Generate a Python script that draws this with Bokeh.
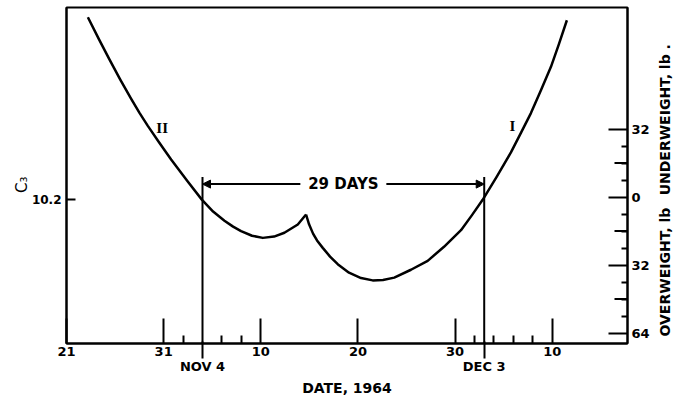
import math
from bokeh.plotting import figure
from bokeh.models import (LinearAxis, FixedTicker, Range1d, Label, Arrow, NormalHead)
from bokeh.embed import file_html
from bokeh.resources import INLINE

# ---------------- data (x: days after Oct 21, 1964; y: lb, underweight positive) -----
curve2_day = [2.20, 3.36, 4.39, 5.52, 6.66, 7.53, 8.37, 9.54, 10.77, 12.42, 13.93,
              15.09, 16.26, 17.15, 17.97, 19.10, 20.21, 21.37, 22.43, 23.81, 24.66]
curve2_lb = [84.6, 74.1, 65.0, 55.4, 46.2, 39.5, 33.5, 25.7, 17.7, 7.7, -1.2,
             -6.8, -11.1, -13.9, -16.0, -18.2, -19.2, -18.6, -16.8, -12.9, -8.2]

curve1_day = [24.66, 24.97, 25.38, 25.79, 26.38, 27.13, 27.92, 29.08, 30.32, 31.52,
              32.58, 33.74, 35.46, 37.18, 38.86, 40.61, 41.74, 42.84, 44.31, 45.75,
              46.78, 47.81, 48.84, 49.87, 50.69, 51.51]
curve1_lb = [-8.2, -12.8, -17.2, -20.4, -23.9, -28.0, -31.6, -35.6, -38.1, -39.2,
             -39.0, -37.9, -34.2, -30.0, -23.4, -15.6, -8.5, -1.3, 9.7, 21.0,
             30.2, 39.5, 50.3, 61.3, 72.0, 83.2]

date_ticks = [0, 10, 20, 30, 40, 50]
date_tick_labels = ["21", "31", "10", "20", "30", "10"]
date_minor_ticks = [12, 16, 18, 42, 44, 46, 48]

window_days = [14, 43]
window_labels = ["NOV 4", "DEC 3"]
window_length_label = "29 DAYS"

weight_ticks = [32, 0, -32, -64]
weight_tick_labels = ["32", "0", "32", "64"]
weight_minor_ticks = [24, 16, 8, -8, -16, -24, -40, -48, -56]
weight_medium_ticks = [16, -16, -48]

c3_ticks = [-1]
c3_tick_labels = ["10.2"]

curve_names = ["II", "I"]

# ---------------- layout ----------------
X0, X1 = 0, 57.75
Y0, Y1 = -68.9, 89.2
FW, FH = 561, 336
px_per_day = FW / (X1 - X0)
px_per_lb = FH / (Y1 - Y0)

FONT = "DejaVu Sans"
BLACK = "black"

p = figure(frame_width=FW, frame_height=FH,
           x_range=Range1d(X0, X1), y_range=Range1d(Y0, Y1),
           output_backend="svg", toolbar_location=None,
           min_border_left=66, min_border_right=52,
           min_border_top=7, min_border_bottom=59)
p.grid.visible = False
p.outline_line_color = BLACK
p.outline_line_width = 2
p.background_fill_color = "white"
p.border_fill_color = "white"


def style_labels(ax, size="13px"):
    ax.major_label_text_font = FONT
    ax.major_label_text_font_style = "bold"
    ax.major_label_text_font_size = size
    ax.major_label_text_color = BLACK
    ax.axis_label_text_font = FONT
    ax.axis_label_text_font_style = "bold"
    ax.axis_label_text_color = BLACK


# bottom axis: day numbers
xa = p.xaxis[0]
xa.ticker = FixedTicker(ticks=date_ticks, minor_ticks=date_minor_ticks)
xa.major_label_overrides = {t: l for t, l in zip(date_ticks, date_tick_labels)}
xa.major_tick_in = 25
xa.major_tick_out = 0
xa.minor_tick_in = 8
xa.minor_tick_out = 0
xa.axis_line_width = 2
xa.major_tick_line_width = 2
xa.minor_tick_line_width = 2
xa.major_label_standoff = 3
style_labels(xa)

# second bottom axis: window dates + title
xb = LinearAxis(ticker=FixedTicker(ticks=window_days, minor_ticks=[]))
xb.major_label_overrides = {t: l for t, l in zip(window_days, window_labels)}
xb.axis_line_color = None
xb.major_tick_in = 17
xb.major_tick_out = 0
xb.major_tick_line_width = 2
xb.major_tick_line_color = BLACK
xb.minor_tick_line_color = None
xb.major_label_standoff = 0
xb.axis_label = "DATE, 1964"
xb.axis_label_standoff = 3
xb.axis_label_text_font_size = "14px"
style_labels(xb)
p.add_layout(xb, "below")

# left axis (C3)
ya = p.yaxis[0]
ya.ticker = FixedTicker(ticks=c3_ticks, minor_ticks=[])
ya.major_label_overrides = {t: l for t, l in zip(c3_ticks, c3_tick_labels)}
ya.major_tick_in = 9
ya.major_tick_out = 0
ya.minor_tick_line_color = None
ya.axis_line_width = 2
ya.major_tick_line_width = 2
ya.major_label_standoff = 5
style_labels(ya, "12px")

# left title "C3" as a rotated label on an outer axis (text hangs below its tick)
c3_title_pos = [9.7]
yb = LinearAxis(ticker=FixedTicker(ticks=c3_title_pos, minor_ticks=[]))
yb.major_label_overrides = {c3_title_pos[0]: "C\u2083"}
yb.major_label_orientation = math.pi / 2
yb.axis_line_color = None
yb.major_tick_line_color = None
yb.minor_tick_line_color = None
yb.major_label_standoff = 0
style_labels(yb, "15px")
yb.major_label_text_font_style = "normal"
p.add_layout(yb, "left")

# right axis (weight)
ra = LinearAxis(ticker=FixedTicker(ticks=weight_ticks, minor_ticks=weight_minor_ticks))
ra.major_label_overrides = {t: l for t, l in zip(weight_ticks, weight_tick_labels)}
ra.major_tick_in = 19
ra.major_tick_out = 0
ra.minor_tick_in = 6
ra.minor_tick_out = 0
ra.axis_line_width = 2
ra.major_tick_line_width = 2
ra.minor_tick_line_width = 2
ra.major_label_standoff = 4
style_labels(ra)
p.add_layout(ra, "right")

# right titles on an outer axis (each text starts at its tick and runs upward)
weight_title_pos = [-65.6, 0.8]
weight_titles = ["OVERWEIGHT, lb", "UNDERWEIGHT,  lb ."]
rb = LinearAxis(ticker=FixedTicker(ticks=weight_title_pos, minor_ticks=[]))
rb.major_label_overrides = {t: l for t, l in zip(weight_title_pos, weight_titles)}
rb.major_label_orientation = math.pi / 2
rb.axis_line_color = None
rb.major_tick_line_color = None
rb.minor_tick_line_color = None
rb.major_label_standoff = 7
style_labels(rb, "14px")
p.add_layout(rb, "right")

# medium ticks on right axis
med_len = 13 / px_per_day
p.segment(x0=[X1 - med_len] * len(weight_medium_ticks), y0=weight_medium_ticks,
          x1=[X1] * len(weight_medium_ticks), y1=weight_medium_ticks,
          line_color=BLACK, line_width=2)

# curves
p.line(curve2_day, curve2_lb, line_color=BLACK, line_width=2.5, line_join="round")
p.line(curve1_day, curve1_lb, line_color=BLACK, line_width=2.5, line_join="round")

# vertical window lines
v_top = 9.4
for d in window_days:
    p.segment(x0=[d], y0=[v_top], x1=[d], y1=[Y0], line_color=BLACK, line_width=2)

# 29 days arrows
arr_y = 6.1
mid = (window_days[0] + window_days[1]) / 2
gap = 43 / px_per_day
for end_day, sign in ((window_days[0], -1), (window_days[1], 1)):
    p.add_layout(Arrow(end=NormalHead(size=8, fill_color=BLACK, line_color=BLACK),
                       x_start=mid + sign * gap, y_start=arr_y, x_end=end_day, y_end=arr_y,
                       line_color=BLACK, line_width=2))
p.add_layout(Label(x=mid, y=arr_y, text=window_length_label, text_align="center",
                   text_baseline="middle", text_font=FONT, text_font_style="bold",
                   text_font_size="15px", text_color=BLACK))

# curve names
for (x, y), t in zip([(9.85, 32.6), (45.9, 33.5)], curve_names):
    p.add_layout(Label(x=x, y=y, text=t, text_align="center", text_baseline="middle",
                       text_font="Liberation Serif", text_font_style="bold",
                       text_font_size="15px", text_color=BLACK))

open("out.html", "w").write(file_html(p, INLINE))
